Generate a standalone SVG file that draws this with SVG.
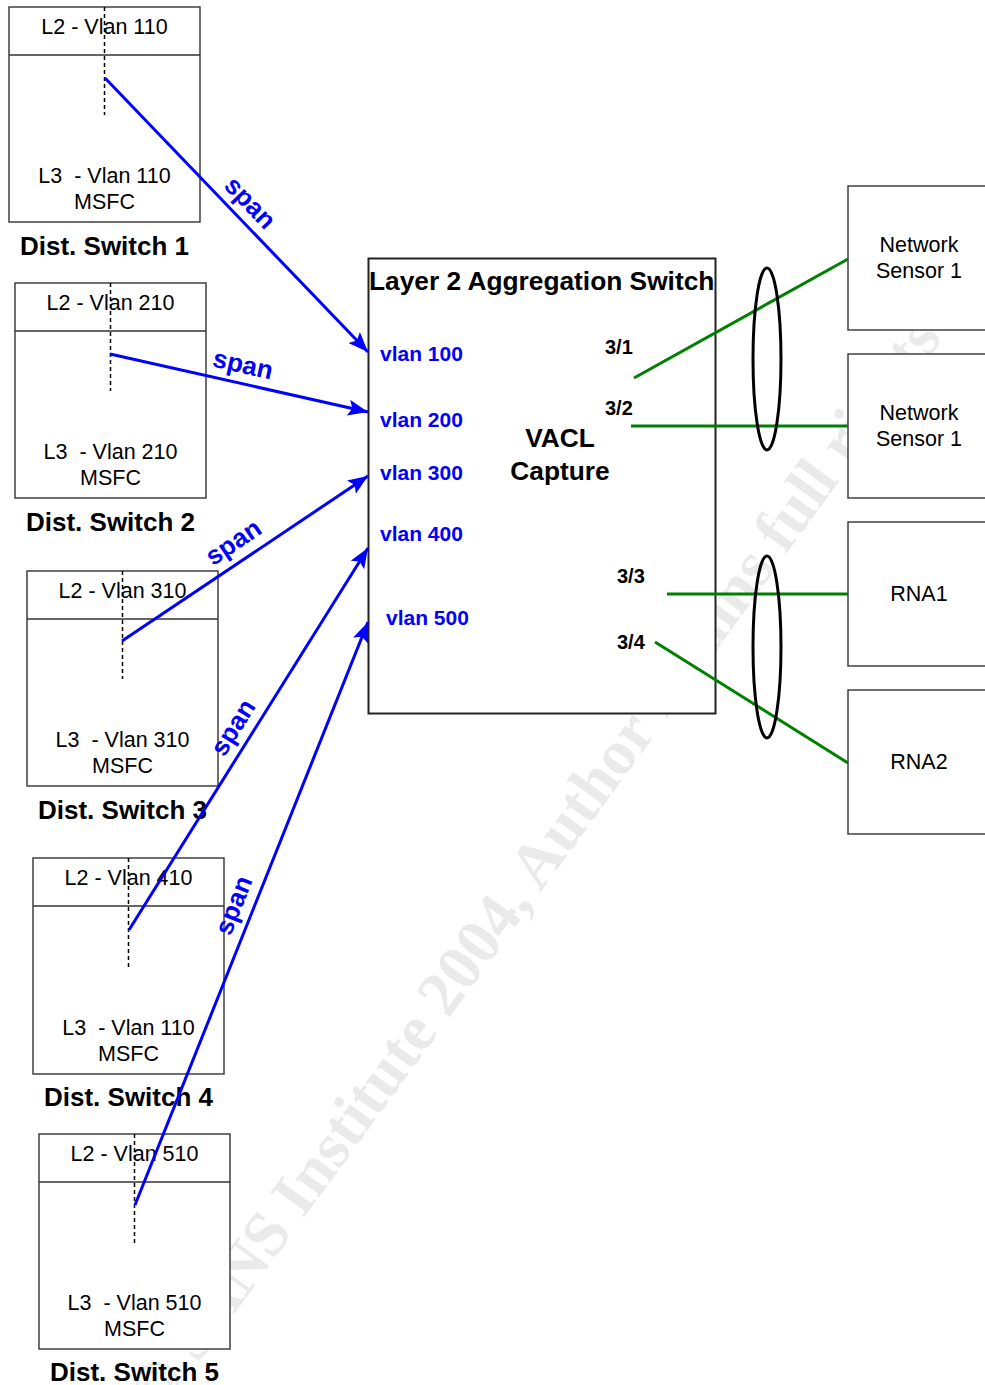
<svg xmlns="http://www.w3.org/2000/svg" width="985" height="1385" viewBox="0 0 985 1385">
<style>
.bg{fill:#ffffff}
.wm{font-family:"Liberation Serif","Times New Roman",serif;font-weight:bold;font-size:64px;fill:#eaeaea}
.box{fill:#ffffff;stroke:#333333;stroke-width:1.4}
.agg{fill:#ffffff;stroke:#222222;stroke-width:2}
.div{stroke:#333333;stroke-width:1.4}
.dash{stroke:#000000;stroke-width:1.5;stroke-dasharray:4 3;fill:none}
.t{font-family:"Liberation Sans",Arial,sans-serif;font-size:21.5px;fill:#000000;text-anchor:middle}
.title{font-family:"Liberation Sans",Arial,sans-serif;font-size:26px;font-weight:bold;fill:#000000;text-anchor:middle}
.big{font-family:"Liberation Sans",Arial,sans-serif;font-size:26.3px;font-weight:bold;fill:#000000}
.vlan{font-family:"Liberation Sans",Arial,sans-serif;font-size:21px;font-weight:bold;fill:#0000ff}
.port{font-family:"Liberation Sans",Arial,sans-serif;font-size:20px;font-weight:bold;fill:#000000}
.span{font-family:"Liberation Sans",Arial,sans-serif;font-size:26px;font-weight:bold;fill:#0000ff;text-anchor:middle}
.blue{stroke:#0000ff;stroke-width:3;fill:none;marker-end:url(#ah)}
.green{stroke:#008000;stroke-width:3;fill:none}
.ell{fill:none;stroke:#000000;stroke-width:3}
</style>
<defs>
<marker id="ah" markerUnits="userSpaceOnUse" markerWidth="22" markerHeight="18" refX="20" refY="8" orient="auto">
<path d="M0,0 L20,8 L0,16 L4,8 Z" fill="#0000ff"/>
</marker>
</defs>
<rect class="bg" x="0" y="0" width="985" height="1385"/>
<g id="watermark">
<text class="wm" x="160" y="1416" transform="rotate(-54 160 1416)">© SANS Institute 2004, Author retains full rights</text>
</g>
<g id="dist1">
<rect class="box" x="9" y="7" width="191" height="215"/>
<line class="div" x1="9" y1="55" x2="200" y2="55"/>
<line class="dash" x1="104.5" y1="7" x2="104.5" y2="115"/>
<text class="t" x="104.5" y="34">L2 - Vlan 110</text>
<text class="t" x="104.5" y="183" xml:space="preserve">L3  - Vlan 110</text>
<text class="t" x="104.5" y="209">MSFC</text>
<text class="title" x="104.5" y="255">Dist. Switch 1</text>
</g>
<g id="dist2">
<rect class="box" x="15" y="283" width="191" height="215"/>
<line class="div" x1="15" y1="331" x2="206" y2="331"/>
<line class="dash" x1="110.5" y1="283" x2="110.5" y2="391"/>
<text class="t" x="110.5" y="310">L2 - Vlan 210</text>
<text class="t" x="110.5" y="459" xml:space="preserve">L3  - Vlan 210</text>
<text class="t" x="110.5" y="485">MSFC</text>
<text class="title" x="110.5" y="531">Dist. Switch 2</text>
</g>
<g id="dist3">
<rect class="box" x="27" y="571" width="191" height="215"/>
<line class="div" x1="27" y1="619" x2="218" y2="619"/>
<line class="dash" x1="122.5" y1="571" x2="122.5" y2="679"/>
<text class="t" x="122.5" y="598">L2 - Vlan 310</text>
<text class="t" x="122.5" y="747" xml:space="preserve">L3  - Vlan 310</text>
<text class="t" x="122.5" y="773">MSFC</text>
<text class="title" x="122.5" y="819">Dist. Switch 3</text>
</g>
<g id="dist4">
<rect class="box" x="33" y="858" width="191" height="216"/>
<line class="div" x1="33" y1="906" x2="224" y2="906"/>
<line class="dash" x1="128.5" y1="858" x2="128.5" y2="967"/>
<text class="t" x="128.5" y="885">L2 - Vlan 410</text>
<text class="t" x="128.5" y="1035" xml:space="preserve">L3  - Vlan 110</text>
<text class="t" x="128.5" y="1061">MSFC</text>
<text class="title" x="128.5" y="1106">Dist. Switch 4</text>
</g>
<g id="dist5">
<rect class="box" x="39" y="1134" width="191" height="215"/>
<line class="div" x1="39" y1="1182" x2="230" y2="1182"/>
<line class="dash" x1="134.5" y1="1134" x2="134.5" y2="1243"/>
<text class="t" x="134.5" y="1161">L2 - Vlan 510</text>
<text class="t" x="134.5" y="1310" xml:space="preserve">L3  - Vlan 510</text>
<text class="t" x="134.5" y="1336">MSFC</text>
<text class="title" x="134.5" y="1381">Dist. Switch 5</text>
</g>
<g id="agg">
<rect class="agg" x="368.5" y="258.5" width="347" height="455"/>
<text class="big" x="369" y="290">Layer 2 Aggregation Switch</text>
<text class="vlan" x="380" y="361">vlan 100</text>
<text class="vlan" x="380" y="427">vlan 200</text>
<text class="vlan" x="380" y="480">vlan 300</text>
<text class="vlan" x="380" y="541">vlan 400</text>
<text class="vlan" x="386" y="625">vlan 500</text>
<text class="big" x="560" y="447" text-anchor="middle">VACL</text>
<text class="big" x="560" y="480" text-anchor="middle">Capture</text>
<text class="port" x="605" y="354">3/1</text>
<text class="port" x="605" y="415">3/2</text>
<text class="port" x="617" y="583">3/3</text>
<text class="port" x="617" y="649">3/4</text>
</g>
<g id="sensor1">
<rect class="box" x="848" y="186" width="150" height="144"/>
<text class="t" x="919" y="252">Network</text>
<text class="t" x="919" y="278">Sensor 1</text>
</g>
<g id="sensor2">
<rect class="box" x="848" y="354" width="150" height="144"/>
<text class="t" x="919" y="420">Network</text>
<text class="t" x="919" y="446">Sensor 1</text>
</g>
<g id="rna1">
<rect class="box" x="848" y="522" width="150" height="144"/>
<text class="t" x="919" y="601">RNA1</text>
</g>
<g id="rna2">
<rect class="box" x="848" y="690" width="150" height="144"/>
<text class="t" x="919" y="769">RNA2</text>
</g>
<g id="connectors">
<line class="blue" x1="105" y1="78" x2="368" y2="352"/>
<line class="blue" x1="110" y1="354" x2="368" y2="412"/>
<line class="blue" x1="122" y1="641" x2="368" y2="476"/>
<line class="blue" x1="129" y1="930" x2="368" y2="548"/>
<line class="blue" x1="135" y1="1205" x2="368" y2="622"/>
<text class="span" transform="translate(247,206) rotate(46.2)" x="0" y="4">span</text>
<text class="span" transform="translate(242,369) rotate(12.7)" x="0" y="4">span</text>
<text class="span" transform="translate(236,546) rotate(-33.9)" x="0" y="4">span</text>
<text class="span" transform="translate(237,730) rotate(-58)" x="0" y="4">span</text>
<text class="span" transform="translate(238,907) rotate(-68.2)" x="0" y="4">span</text>
<line class="green" x1="634" y1="378" x2="848" y2="259"/>
<line class="green" x1="631" y1="426" x2="848" y2="426"/>
<line class="green" x1="667" y1="594" x2="848" y2="594"/>
<line class="green" x1="655" y1="642" x2="848" y2="763"/>
<ellipse class="ell" cx="767" cy="359" rx="14" ry="91"/>
<ellipse class="ell" cx="767" cy="647" rx="14" ry="91"/>
</g>
</svg>
